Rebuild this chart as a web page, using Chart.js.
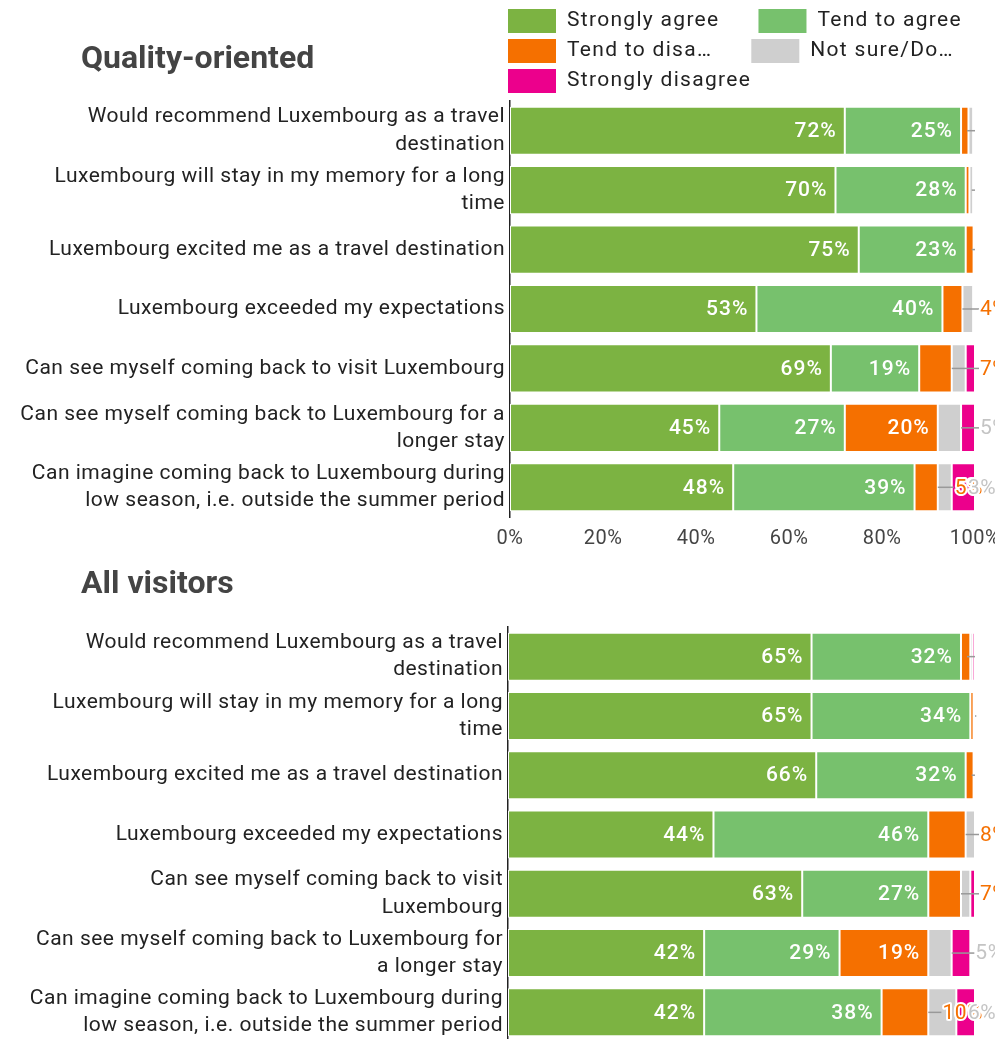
<!DOCTYPE html>
<html>
<head>
<meta charset="utf-8">
<script src="https://cdn.jsdelivr.net/npm/chart.js"></script>
<style>
html, body { margin: 0; padding: 0; background: #fff; overflow: hidden; width: 995px; height: 1039px; }
.box { position: absolute; left: 0; width: 995px; height: 560px; }
#boxTop { top: 0; }
#boxAll { top: 540px; }
</style>
</head>
<body>
<div class="box" id="boxTop"><canvas id="graphTop"></canvas></div>
<div class="box" id="boxAll"><canvas id="graphAll"></canvas></div>
<script>
const seriesNames = ['Strongly agree', 'Tend to agree', 'Tend to disagree', "Not sure/Don't know", 'Strongly disagree'];
const legendLabels = ['Strongly agree', 'Tend to agree', 'Tend to disa…', 'Not sure/Do…', 'Strongly disagree'];
const seriesColors = ['#7cb342', '#77c16d', '#f57000', '#cfcfcf', '#ec008c'];
const calloutColors = ['#7cb342', '#77c16d', '#f57000', '#c4c4c4', '#ec008c'];

const labelsQuality = [
	['Would recommend Luxembourg as a travel', 'destination'],
	['Luxembourg will stay in my memory for a long', 'time'],
	'Luxembourg excited me as a travel destination',
	'Luxembourg exceeded my expectations',
	'Can see myself coming back to visit Luxembourg',
	['Can see myself coming back to Luxembourg for a', 'longer stay'],
	['Can imagine coming back to Luxembourg during', 'low season, i.e. outside the summer period']
];
const labelsAll = [
	['Would recommend Luxembourg as a travel', 'destination'],
	['Luxembourg will stay in my memory for a long', 'time'],
	'Luxembourg excited me as a travel destination',
	'Luxembourg exceeded my expectations',
	['Can see myself coming back to visit', 'Luxembourg'],
	['Can see myself coming back to Luxembourg for', 'a longer stay'],
	['Can imagine coming back to Luxembourg during', 'low season, i.e. outside the summer period']
];

// Quality-oriented visitors (%)
const qualityStronglyAgree = [72, 70, 75, 53, 69, 45, 48];
const qualityTendAgree = [25, 28, 23, 40, 19, 27, 39];
const qualityTendDisagree = [1.6, 0.8, 1.7, 4.3, 7, 20, 5];
const qualityNotSure = [1.0, 0.8, 0, 2.3, 3, 5, 3];
const qualityStronglyDisagree = [0.4, 0.4, 0.3, 0.4, 2, 3, 5];

// All visitors (%)
const allStronglyAgree = [65, 65, 66, 44, 63, 42, 42];
const allTendAgree = [32, 34, 32, 46, 27, 29, 38];
const allTendDisagree = [2, 0.7, 1.7, 8, 7, 19, 10];
const allNotSure = [0.5, 0, 0, 2, 2, 5, 6];
const allStronglyDisagree = [0.5, 0.3, 0.3, 0, 1, 4, 4];

Chart.defaults.font.family = 'Roboto, sans-serif';

// slightly looser tracking for all the chart text
const spacing = {
	id: 'spacing',
	beforeDraw(chart) {
		chart.ctx.letterSpacing = '0.5px';
	}
};

// value labels inside the segments, callouts for the narrow ones
const segmentLabels = {
	id: 'segmentLabels',
	afterDatasetsDraw(chart) {
		const ctx = chart.ctx;
		const n = chart.data.labels.length;
		ctx.save();
		ctx.textBaseline = 'middle';
		for (let j = 0; j < n; j++) {
			const callouts = [];
			let barEnd = chart.chartArea.left;
			let agreeEnd = null;
			let rest = 0;
			chart.data.datasets.forEach((ds, i) => {
				const v = ds.data[j];
				const el = chart.getDatasetMeta(i).data[j];
				if (i === 1) agreeEnd = el.x;
				if (!v) return;
				if (i >= 2) rest += v;
				barEnd = Math.max(barEnd, el.x);
				const txt = Math.round(v) + '%';
				ctx.font = '500 21px Roboto';
				ctx.letterSpacing = '1px';
				const w = el.x - el.base;
				if (w >= ctx.measureText(txt).width + 16) {
					ctx.fillStyle = '#fff';
					ctx.textAlign = 'right';
					ctx.fillText(txt, el.x - 8, el.y + 1);
				} else if (v >= 3) {
					callouts.push({ i: i, txt: txt, end: el.x, y: el.y });
				}
			});
			ctx.strokeStyle = '#999';
			ctx.lineWidth = 1.5;
			if (callouts.length) {
				ctx.font = '21px Roboto';
				ctx.letterSpacing = '0.5px';
				const crowded = callouts.length > 2;
				let x = barEnd + 5;
				if (crowded) {
					// squeeze the first two callouts back over the bar end
					x = barEnd - 7 - ctx.measureText(callouts[0].txt.replace('%', '')).width - 1;
				}
				const y = callouts[0].y;
				ctx.beginPath();
				ctx.moveTo(callouts[0].end, y);
				ctx.lineTo(x - 1, y);
				ctx.stroke();
				ctx.textAlign = 'left';
				ctx.lineJoin = 'round';
				callouts.slice(0, 2).forEach(c => {
					ctx.lineWidth = 4;
					ctx.strokeStyle = '#fff';
					ctx.strokeText(c.txt, x, y + 1);
					ctx.fillStyle = calloutColors[c.i];
					ctx.fillText(c.txt, x, y + 1);
					const step = crowded ? c.txt.replace('%', '') : c.txt;
					x += ctx.measureText(step).width + (crowded ? 1 : 4);
				});
			} else if (rest > 0 && agreeEnd !== null) {
				const y = chart.getDatasetMeta(0).data[j].y;
				ctx.beginPath();
				ctx.moveTo(agreeEnd + 6, y);
				ctx.lineTo(barEnd, y);
				ctx.stroke();
			}
		}
		ctx.restore();
	}
};

// heading text and the legend block
const heading = {
	id: 'heading',
	afterDraw(chart, args, opts) {
		const ctx = chart.ctx;
		ctx.save();
		ctx.letterSpacing = '0px';
		ctx.font = 'bold 32px Roboto';
		ctx.fillStyle = '#444';
		ctx.textBaseline = 'alphabetic';
		ctx.fillText(opts.text, 81, opts.baseline);
		if (opts.legend) {
			const rows = [[0, 1], [2, 3], [4]];
			ctx.font = '21px Roboto';
			ctx.letterSpacing = '1.3px';
			ctx.textBaseline = 'middle';
			rows.forEach((row, r) => {
				let x = 508;
				const top = 9 + r * 30;
				row.forEach(i => {
					ctx.fillStyle = seriesColors[i];
					ctx.fillRect(x, top, 48, 24);
					ctx.fillStyle = '#222';
					ctx.fillText(legendLabels[i], x + 59, top + 12);
					x += 59 + ctx.measureText(legendLabels[i]).width + 39;
				});
			});
		}
		ctx.restore();
	}
};

function makeDatasets(groups) {
	return groups.map((values, i) => ({
		label: seriesNames[i],
		data: values,
		backgroundColor: seriesColors[i],
		borderColor: '#ffffff',
		borderWidth: 1,
		borderSkipped: false,
		barPercentage: 0.81,
		categoryPercentage: 1
	}));
}

function makeChart(el, labels, groups, cfg) {
	return new Chart(el, {
		type: 'bar',
		data: { labels: labels, datasets: makeDatasets(groups) },
		plugins: [spacing, segmentLabels, heading],
		options: {
			indexAxis: 'y',
			responsive: true,
			maintainAspectRatio: false,
			animation: false,
			layout: { padding: { top: cfg.top, right: 20, left: 0, bottom: 0 } },
			scales: {
				x: {
					stacked: true,
					min: 0,
					max: 100,
					grid: { display: false, drawTicks: false },
					border: { display: false },
					ticks: {
						stepSize: 20,
						color: '#444',
						font: { size: 20 },
						padding: 10,
						maxRotation: 0,
						callback: v => v + '%'
					},
					afterFit(scale) {
						scale.height = cfg.axisHeight;
						scale.paddingLeft = 0;
						scale.paddingRight = 0;
					}
				},
				y: {
					stacked: true,
					grid: { display: false, drawTicks: false },
					border: { display: true, color: '#222', width: 1.5 },
					ticks: {
						color: '#222',
						autoSkip: false,
						padding: 5,
						font: { size: 21, lineHeight: 1.29 }
					},
					afterFit(scale) {
						scale.width = cfg.axisLeft;
						scale.paddingTop = 0;
						scale.paddingBottom = 0;
					}
				}
			},
			plugins: {
				legend: { display: false },
				tooltip: { enabled: false },
				heading: { text: cfg.title, baseline: cfg.baseline, legend: cfg.legend }
			}
		}
	});
}

makeChart(document.getElementById('graphTop'), labelsQuality,
	[qualityStronglyAgree, qualityTendAgree, qualityTendDisagree, qualityNotSure, qualityStronglyDisagree],
	{ title: 'Quality-oriented', baseline: 68, legend: true, top: 101, axisHeight: 43, axisLeft: 510 });

makeChart(document.getElementById('graphAll'), labelsAll,
	[allStronglyAgree, allTendAgree, allTendDisagree, allNotSure, allStronglyDisagree],
	{ title: 'All visitors', baseline: 53, legend: false, top: 87, axisHeight: 58, axisLeft: 508 });
</script>
</body>
</html>
